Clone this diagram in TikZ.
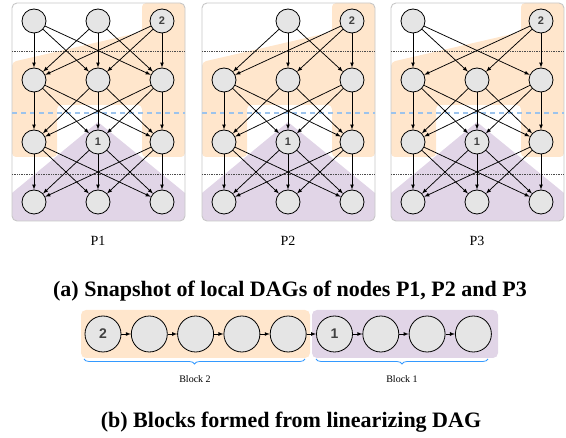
\documentclass[tikz,border=0pt]{standalone}
\usepackage{fontspec}
\setmainfont{Liberation Serif}
\newfontfamily\numfont{Liberation Sans}
\usepackage{tikz}
\usetikzlibrary{arrows,calc}
\usetikzlibrary{decorations,decorations.pathreplacing}
\definecolor{dagorange}{HTML}{FFE6CC}
\definecolor{dagpurple}{HTML}{E1D5E7}
\definecolor{cutblue}{HTML}{9CC3EC}
\definecolor{braceblue}{HTML}{3399FF}
\tikzset{
	dagnode/.style={circle, draw, fill=gray!20, line width=.8pt, inner sep=0pt, minimum size=24pt, font=\numfont\bfseries\fontsize{11}{11}\selectfont, text=black!75},
	blocknode/.style={dagnode, minimum size=36pt, font=\numfont\bfseries\fontsize{14}{14}\selectfont}
}
\tikzstyle{orangeshading}=[fill=dagorange]
\tikzstyle{purpleshading}=[fill=dagpurple]
\tikzstyle{dagedge}=[-latex, line width=.75pt]
\tikzstyle{layerline}=[densely dotted, black!70, line width=.7pt]
\tikzstyle{cutline}=[dash pattern=on 5pt off 4pt, cutblue, line width=1.1pt]
\tikzstyle{panelframe}=[rounded corners=5pt, draw=black!22, line width=.9pt]
\tikzstyle{blockbrace}=[decorate, decoration={brace, mirror, amplitude=5pt}, braceblue, line width=.8pt]
\newcommand{\localDAG}[3]{
	\begin{scope}[shift={(#1,0)}]
	\begin{scope}
		\clip[rounded corners=5pt] (0,3) rectangle (173,221);
		\fill[orangeshading, rounded corners=4pt] (0,62) -- (130,32) -- (130,3) -- (173,3) -- (173,157) -- (130,157) -- (130,105) -- (45,105) -- (45,157) -- (0,157) -- cycle;
		\fill[purpleshading] (0,221) -- (0,193) -- (86,122) -- (173,193) -- (173,221) -- cycle;
	\end{scope}
	\draw[panelframe] (0,3) rectangle (173,221);
	\draw[layerline] (0,51) -- (173,51);
	\draw[layerline] (0,174) -- (173,174);
	\draw[cutline] (0,113) -- (173,113);
	\foreach \c in {#3}
		\node[dagnode] (#2-0\c) at ({22+64*\c},21) {};
	\node[dagnode] (#2-02) at (150,21) {2};
	\foreach \r/\y in {1/80,2/142,3/202}
		\foreach \c in {0,1,2}
			\node[dagnode] (#2-\r\c) at ({22+64*\c},\y) {\ifnum\r\c=21 1\fi};
	\foreach \a in {#3,2}
		\foreach \b in {0,1,2}
			\draw[dagedge] (#2-0\a) -- (#2-1\b);
	\foreach \r/\s in {1/2,2/3}
		\foreach \a in {0,1,2}
			\foreach \b in {0,1,2}
				\draw[dagedge] (#2-\r\a) -- (#2-\s\b);
	\node (#2-name) at (86,241) {\fontsize{14}{14}\selectfont #2};
	\end{scope}
}

\begin{document}
\begin{tikzpicture}[x=1pt, y=-1pt]
	\useasboundingbox (0,0) rectangle (566,438);
	\localDAG{12}{P1}{0,1}
	\localDAG{202}{P2}{1}
	\localDAG{391}{P3}{0}
	\node (capa) at (290,291) {\fontsize{22}{22}\selectfont\bfseries (a) Snapshot of local DAGs of nodes P1, P2 and P3};
	% linearized blocks
	\fill[orangeshading, rounded corners=5pt] (81,310) rectangle (310,358);
	\fill[purpleshading, rounded corners=5pt] (312,310) rectangle (498,358);
	\foreach \i in {0,...,8}
		\node[blocknode] (b\i) at ({103+46.3*\i},334) {\ifnum\i=0 2\fi\ifnum\i=5 1\fi};
	\foreach \i [count=\j] in {0,...,7}
		\draw[dagedge] (b\i) -- (b\j);
	\coordinate (blk2-l) at (84,359);
	\coordinate (blk2-r) at (305,359);
	\coordinate (blk1-l) at (316,359);
	\coordinate (blk1-r) at (488,359);
	\draw[blockbrace] (blk2-l) -- (blk2-r);
	\draw[blockbrace] (blk1-l) -- (blk1-r);
	\node (blk2) at (195,379) {\fontsize{10}{10}\selectfont Block 2};
	\node (blk1) at (402,379) {\fontsize{10}{10}\selectfont Block 1};
	\node (capb) at (291,422) {\fontsize{22}{22}\selectfont\bfseries (b) Blocks formed from linearizing DAG};
\end{tikzpicture}
\end{document}
